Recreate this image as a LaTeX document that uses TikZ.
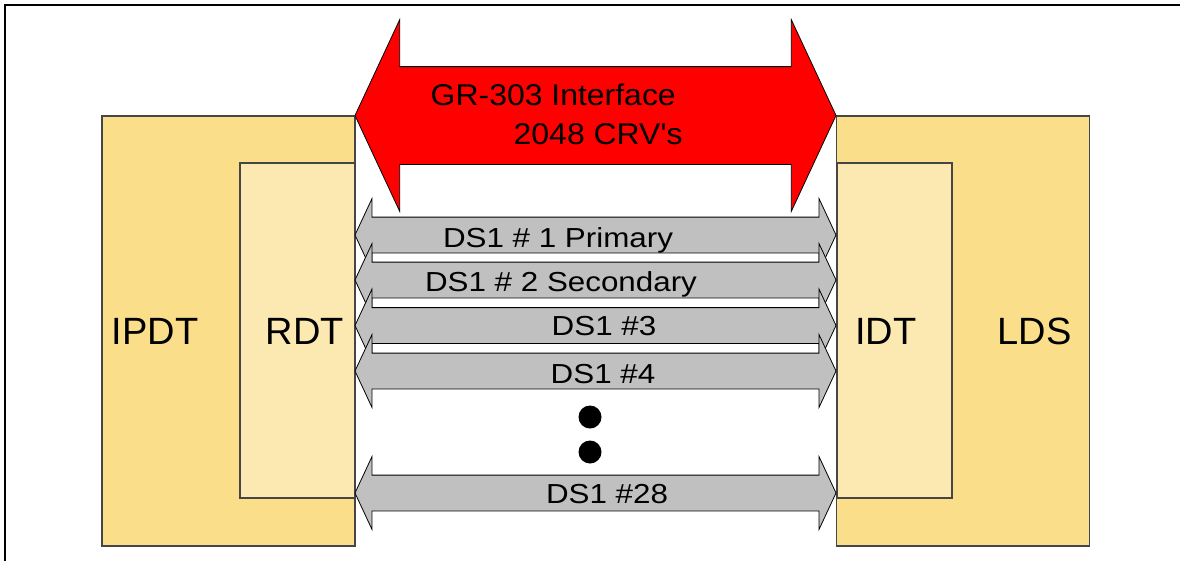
\documentclass[tikz,border=0pt]{standalone}
\usepackage{fontspec}
\setmainfont{Liberation Sans}
\usepackage{tikz}
\usetikzlibrary{shapes.arrows}
\definecolor{shelfA}{RGB}{250,222,138}
\definecolor{shelfB}{RGB}{252,232,177}
\definecolor{shelfline}{RGB}{70,70,70}
\definecolor{trunk}{RGB}{192,192,192}

\begin{document}
\begin{tikzpicture}[x=1pt,y=-1pt,
  sysbox/.style={draw=shelfline,fill=shelfA,line width=1.2pt,inner sep=0pt,
    minimum width=253,minimum height=430},
  cardbox/.style={draw=shelfline,fill=shelfB,line width=1.2pt,inner sep=0pt,
    minimum width=115,minimum height=335},
  boxtext/.style={font=\fontsize{38}{40}\selectfont,inner sep=0pt,anchor=base},
  dslink/.style={double arrow,draw=black,fill=trunk,line width=0.8pt,
    inner sep=0pt,inner ysep=17.5,double arrow head extend=18.5,
    double arrow tip angle=130,minimum height=481},
  crvlink/.style={double arrow,draw=black,fill=red,line width=0.8pt,
    inner sep=0pt,inner ysep=48.5,double arrow head extend=47,
    double arrow tip angle=130,minimum height=481},
  dstext/.style={font=\fontsize{27.5}{30}\selectfont,xscale=1.14,inner sep=0pt,anchor=base},
  crvtext/.style={font=\fontsize{30}{32}\selectfont,xscale=1.065,inner sep=0pt,anchor=base west}]
  \clip (0,0) rectangle (1180,560);
  % frame
  \draw[line width=2.5pt] (5,5) rectangle (1200,600);
  % end systems
  \node[sysbox] (ipdt) at (228.5,331) {};
  \node[cardbox] (rdt) at (297.5,330.5) {};
  \node[sysbox] (lds) at (963,331) {};
  \node[cardbox] (idt) at (894.5,330.5) {};
  \node[boxtext] (ipdt-t) at (155,344) {IPDT};
  \node[boxtext] (rdt-t) at (305,344) {RDT};
  \node[boxtext] (idt-t) at (886,344) {IDT};
  \node[boxtext] (lds-t) at (1034.5,344) {LDS};
  % GR-303 interface
  \node[crvlink] (gr303) at (595.5,115.5) {};
  \node[crvtext] (gr303-a) at (430.5,105.7) {GR-303 Interface};
  \node[crvtext] (gr303-b) at (513.5,144.3) {2048 CRV\textquotesingle s};
  % DS1 links
  \foreach \k/\cy/\lx/\ly/\txt in {1/235/558/247/{DS1 \# 1 Primary},
      2/280/561/291/{DS1 \# 2 Secondary},3/325.5/604/335/{DS1 \#3},
      4/371/603/383/{DS1 \#4},28/493/607/503/{DS1 \#28}}{
    \node[dslink] (ds\k) at (595.5,\cy) {};
    \node[dstext] (ds\k-t) at (\lx,\ly) {\txt};
  }
  \foreach \y in {417,452}
    \fill (590,\y) circle (11.5);
\end{tikzpicture}
\end{document}
